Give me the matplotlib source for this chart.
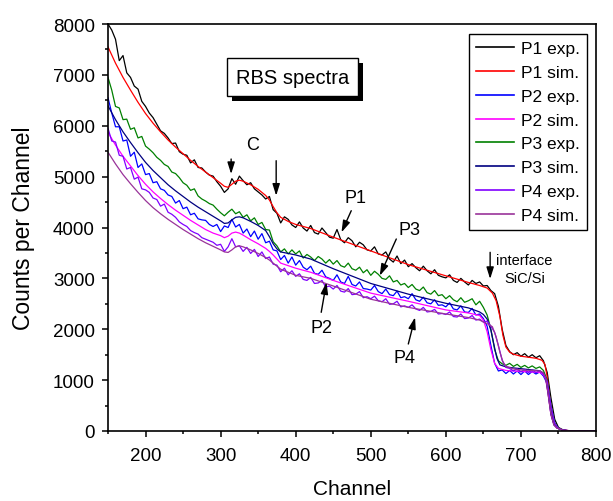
import numpy as np
import matplotlib
matplotlib.use("Agg")
import matplotlib.pyplot as plt
import matplotlib.patheffects as pe
from matplotlib.ticker import MultipleLocator

plt.rcParams["font.family"] = ["Liberation Sans", "DejaVu Sans"]

# experimental spectra, one value every 5 channels starting at channel 150
EXP_START, EXP_STEP = 150, 5

p1_exp = [
    8000, 7880, 7700, 7280, 7380, 7040, 6950, 6780, 6720, 6480,
    6380, 6250, 6160, 6030, 5900, 5850, 5760, 5650, 5660, 5490,
    5440, 5420, 5270, 5330, 5180, 5170, 5090, 5030, 5010, 4900,
    4810, 4690, 4760, 4960, 4850, 5010, 4920, 4840, 4880, 4760,
    4700, 4640, 4560, 4610, 4350, 4280, 4090, 4210, 4160, 4050,
    4000, 4110, 3990, 3930, 4040, 3900, 3870, 3990, 3900, 3810,
    3790, 3960, 3760, 3700, 3800, 3740, 3620, 3710, 3660, 3560,
    3540, 3620, 3480, 3460, 3520, 3380, 3320, 3440, 3290, 3360,
    3230, 3290, 3210, 3150, 3240, 3150, 3090, 3170, 3060, 3030,
    3010, 3070, 2960, 2920, 3000, 2930, 2870, 2960, 2900, 2930,
    2850, 2860, 2760, 2700, 2450, 2000, 1680, 1560, 1500, 1540,
    1470, 1520, 1450, 1500, 1440, 1480, 1380, 1150, 650, 230,
    70, 30, 10, 0, 0, 0, 0, 0, 0, 0, 0,
]
p2_exp = [
    6550, 6250, 5980, 5980, 5700, 5720, 5400, 5480, 5180, 5250,
    5040, 5060, 4880, 4900, 4760, 4730, 4640, 4610, 4480, 4530,
    4370, 4400, 4250, 4280, 4170, 4150, 4140, 4060, 4020, 4060,
    3920, 4030, 4000, 4160, 4010, 4060, 3890, 3970, 3820, 3930,
    3770, 3880, 3700, 3730, 3560, 3540, 3370, 3450, 3300, 3420,
    3260, 3350, 3220, 3170, 3240, 3100, 3080, 3160, 3030, 3000,
    2960, 3070, 2930, 2900, 3040, 2880, 2850, 2930, 2800, 2790,
    2770, 2860, 2740, 2700, 2790, 2680, 2660, 2750, 2620, 2640,
    2600, 2700, 2580, 2550, 2630, 2520, 2500, 2580, 2470, 2480,
    2440, 2520, 2400, 2380, 2460, 2340, 2330, 2410, 2280, 2300,
    2210, 2060, 1680, 1330, 1180, 1200, 1130, 1190, 1120, 1180,
    1110, 1180, 1110, 1170, 1120, 1160, 1080, 930, 480, 150,
    50, 20, 10, 0, 0, 0, 0, 0, 0, 0, 0,
]
p3_exp = [
    6950, 6700, 6380, 6350, 6120, 6130, 5930, 5960, 5760, 5790,
    5600, 5540, 5470, 5380, 5320, 5240, 5200, 5090, 5060, 4980,
    4880, 4830, 4730, 4760, 4620, 4560, 4520, 4470, 4440, 4360,
    4290, 4230, 4300, 4360, 4270, 4310, 4200, 4250, 4130, 4190,
    4060, 4100, 3960, 3950, 3720, 3640, 3520, 3580, 3480, 3560,
    3480, 3540, 3400, 3470, 3420, 3350, 3430, 3380, 3300, 3370,
    3280, 3350, 3250, 3220, 3300, 3190, 3160, 3220, 3110, 3170,
    3060, 3140, 3080, 3000, 2980, 3050, 2930, 2960, 2870, 2900,
    2820, 2880, 2790, 2760, 2830, 2720, 2690, 2760, 2660, 2680,
    2600, 2660, 2580, 2540, 2620, 2530, 2560, 2600, 2480, 2550,
    2430, 2280, 2000, 1600, 1380, 1320, 1290, 1330, 1270, 1310,
    1250, 1290, 1240, 1280, 1230, 1260, 1190, 1000, 500, 150,
    50, 20, 10, 0, 0, 0, 0, 0, 0, 0, 0,
]
p4_exp = [
    5950, 5700, 5680, 5420, 5400, 5150, 5180, 4950, 4990, 4760,
    4740, 4690, 4580, 4550, 4420, 4460, 4300, 4260, 4200, 4110,
    4060, 4020, 3940, 3900, 3870, 3800, 3770, 3740, 3710, 3650,
    3670, 3530, 3620, 3780, 3620, 3640, 3530, 3610, 3490, 3570,
    3430, 3520, 3390, 3420, 3280, 3260, 3130, 3200, 3070, 3150,
    3040, 3090, 2980, 2960, 3020, 2900, 2910, 2960, 2830, 2850,
    2790, 2860, 2750, 2730, 2800, 2680, 2690, 2740, 2620, 2640,
    2600, 2650, 2560, 2540, 2600, 2490, 2500, 2550, 2440, 2460,
    2430, 2480, 2400, 2370, 2430, 2340, 2350, 2390, 2300, 2310,
    2290, 2340, 2250, 2240, 2300, 2210, 2220, 2270, 2180, 2200,
    2140, 2160, 2060, 1940, 1680, 1390, 1250, 1230, 1180, 1220,
    1160, 1210, 1150, 1200, 1150, 1180, 1120, 980, 490, 150,
    50, 20, 10, 0, 0, 0, 0, 0, 0, 0, 0,
]

# simulated spectra as (channel, counts) pairs
p1_sim = [
    (150, 7550), (160, 7230), (170, 6950), (180, 6700), (190, 6460), (200, 6240),
    (210, 6050), (220, 5880), (230, 5720), (240, 5580), (250, 5450), (260, 5320),
    (270, 5200), (280, 5090), (290, 4980), (300, 4870), (305, 4810), (310, 4790),
    (315, 4850), (320, 4910), (325, 4930), (330, 4910), (340, 4840), (350, 4750),
    (360, 4630), (365, 4540), (370, 4410), (375, 4290), (380, 4200), (390, 4120),
    (400, 4060), (420, 3980), (450, 3810), (500, 3540), (550, 3270), (600, 3050),
    (630, 2920), (645, 2860), (655, 2810), (662, 2710), (667, 2560), (672, 2250),
    (676, 1880), (680, 1650), (685, 1550), (690, 1510), (700, 1470), (710, 1450),
    (720, 1430), (728, 1390), (732, 1310), (735, 1060), (739, 580), (743, 190),
    (748, 60), (755, 20), (765, 5), (800, 0),
]
p2_sim = [
    (150, 5870), (160, 5620), (170, 5400), (180, 5210), (190, 5020), (200, 4850),
    (210, 4700), (220, 4570), (230, 4450), (240, 4340), (250, 4240), (260, 4140),
    (270, 4050), (280, 3960), (290, 3890), (300, 3840), (305, 3800), (310, 3830),
    (315, 3890), (320, 3910), (325, 3890), (330, 3850), (340, 3760), (350, 3680),
    (360, 3590), (365, 3530), (370, 3460), (375, 3380), (380, 3300), (390, 3250),
    (400, 3200), (420, 3120), (450, 2960), (500, 2710), (550, 2550), (600, 2380),
    (630, 2320), (645, 2270), (650, 2180), (655, 1950), (660, 1600), (665, 1330),
    (670, 1230), (680, 1190), (700, 1170), (715, 1160), (725, 1150), (730, 1110),
    (733, 1020), (736, 740), (740, 320), (744, 120), (748, 60), (755, 20),
    (765, 5), (800, 0),
]
p3_sim = [
    (150, 6390), (160, 6120), (170, 5880), (180, 5670), (190, 5470), (200, 5280),
    (210, 5120), (220, 4980), (230, 4840), (240, 4720), (250, 4610), (260, 4500),
    (270, 4400), (280, 4310), (290, 4220), (300, 4130), (305, 4080), (310, 4090),
    (315, 4150), (320, 4200), (325, 4210), (330, 4190), (340, 4120), (350, 4040),
    (360, 3940), (365, 3820), (370, 3680), (375, 3580), (380, 3520), (390, 3490),
    (400, 3460), (420, 3380), (450, 3190), (500, 2900), (550, 2690), (600, 2510),
    (630, 2420), (645, 2340), (650, 2290), (655, 2200), (660, 1980), (664, 1700),
    (668, 1430), (672, 1300), (680, 1260), (690, 1240), (700, 1225), (715, 1200),
    (725, 1185), (730, 1140), (733, 1050), (736, 760), (740, 330), (744, 120),
    (748, 60), (755, 20), (765, 5), (800, 0),
]
p4_sim = [
    (150, 5480), (160, 5250), (170, 5040), (180, 4860), (190, 4690), (200, 4530),
    (210, 4390), (220, 4270), (230, 4160), (240, 4060), (250, 3960), (260, 3870),
    (270, 3780), (280, 3700), (290, 3630), (300, 3560), (305, 3520), (310, 3510),
    (315, 3560), (320, 3620), (325, 3640), (330, 3620), (340, 3560), (350, 3490),
    (360, 3410), (365, 3360), (370, 3300), (375, 3240), (380, 3180), (390, 3120),
    (400, 3060), (420, 3000), (450, 2850), (500, 2590), (550, 2430), (600, 2300),
    (630, 2230), (645, 2180), (655, 2110), (662, 2050), (667, 1850), (672, 1550),
    (676, 1360), (680, 1270), (690, 1220), (700, 1200), (715, 1190), (725, 1180),
    (730, 1140), (733, 1050), (736, 760), (740, 330), (744, 120), (748, 60),
    (755, 20), (765, 5), (800, 0),
]

series = [
    ("P1 exp.", p1_exp, "black"),
    ("P1 sim.", p1_sim, "#ff0000"),
    ("P2 exp.", p2_exp, "#0000ff"),
    ("P2 sim.", p2_sim, "#ff00ff"),
    ("P3 exp.", p3_exp, "#008000"),
    ("P3 sim.", p3_sim, "#000080"),
    ("P4 exp.", p4_exp, "#8000ff"),
    ("P4 sim.", p4_sim, "#993399"),
]

fig = plt.figure(figsize=(6.13, 5.02), dpi=100)
ax = fig.add_axes([108 / 613, 70 / 502, 488 / 613, 407 / 502])

for label, data, color in series:
    if isinstance(data[0], tuple):
        arr = np.array(data, dtype=float)
        x, y = arr[:, 0], arr[:, 1]
    else:
        y = np.array(data, dtype=float)
        x = EXP_START + EXP_STEP * np.arange(len(y))
    ax.plot(x, y, color=color, lw=0.9, label=label)

ax.set_xlim(150, 800)
ax.set_ylim(0, 8000)
ax.xaxis.set_major_locator(MultipleLocator(100))
ax.xaxis.set_minor_locator(MultipleLocator(50))
ax.yaxis.set_major_locator(MultipleLocator(1000))
ax.yaxis.set_minor_locator(MultipleLocator(500))
ax.tick_params(which="both", direction="out", top=False, right=False,
               width=1.1, labelsize=13.5)
ax.tick_params(which="major", length=4.5)
ax.tick_params(which="minor", length=2.5)
ax.tick_params(axis="x", which="major", pad=7)
ax.tick_params(axis="y", which="major", pad=5)
for sp in ax.spines.values():
    sp.set_linewidth(1.2)

ax.set_xlabel("Channel", fontsize=15, labelpad=11)
ax.set_ylabel("Counts per Channel", fontsize=16.5, labelpad=13)

leg = ax.legend(loc="upper left", bbox_to_anchor=(469 / 613, 1 - 35 / 502),
                bbox_transform=fig.transFigure, borderaxespad=0, fontsize=12.5,
                frameon=True, fancybox=False, framealpha=1, edgecolor="black",
                handlelength=2.2, handletextpad=0.4, labelspacing=0.5,
                borderpad=0.4)
leg.get_frame().set_linewidth(1.0)
for line in leg.get_lines():
    line.set_linewidth(1.2)

# title box with a solid drop shadow
title = ax.text(396, 6958, "RBS spectra", ha="center", va="center", fontsize=14.5,
                bbox=dict(boxstyle="square,pad=0.45", fc="white", ec="black", lw=1))
title.get_bbox_patch().set_path_effects([
    pe.SimplePatchShadow(offset=(3.6, -3.6), shadow_rgbFace="black", alpha=1.0),
    pe.Normal(),
])

arrow = dict(arrowstyle="-|>,head_length=0.7,head_width=0.22", color="black",
             lw=1.0, shrinkA=0, shrinkB=0, mutation_scale=10)

ax.text(342, 5640, "C", ha="center", va="center", fontsize=13)
ax.annotate("", xy=(314, 5051), xytext=(314, 5346), arrowprops=arrow)
ax.annotate("", xy=(374, 4625), xytext=(374, 5313), arrowprops=arrow)

ax.text(479, 4593, "P1", ha="center", va="center", fontsize=13)
ax.annotate("", xy=(461, 3905), xytext=(474, 4330), arrowprops=arrow)
ax.text(552, 3970, "P3", ha="center", va="center", fontsize=13)
ax.annotate("", xy=(512, 3052), xytext=(534, 3774), arrowprops=arrow)
ax.text(435, 2044, "P2", ha="center", va="center", fontsize=13)
ax.annotate("", xy=(441, 2923), xytext=(434, 2333), arrowprops=arrow)
ax.text(545, 1454, "P4", ha="center", va="center", fontsize=13)
ax.annotate("", xy=(559, 2235), xytext=(550, 1710), arrowprops=arrow)

ax.text(705, 3184, "interface\nSiC/Si", ha="center", va="center",
        fontsize=10.5, linespacing=1.3)
ax.annotate("", xy=(659, 2988), xytext=(659, 3512), arrowprops=arrow)

fig.savefig("out.png", dpi=100)
